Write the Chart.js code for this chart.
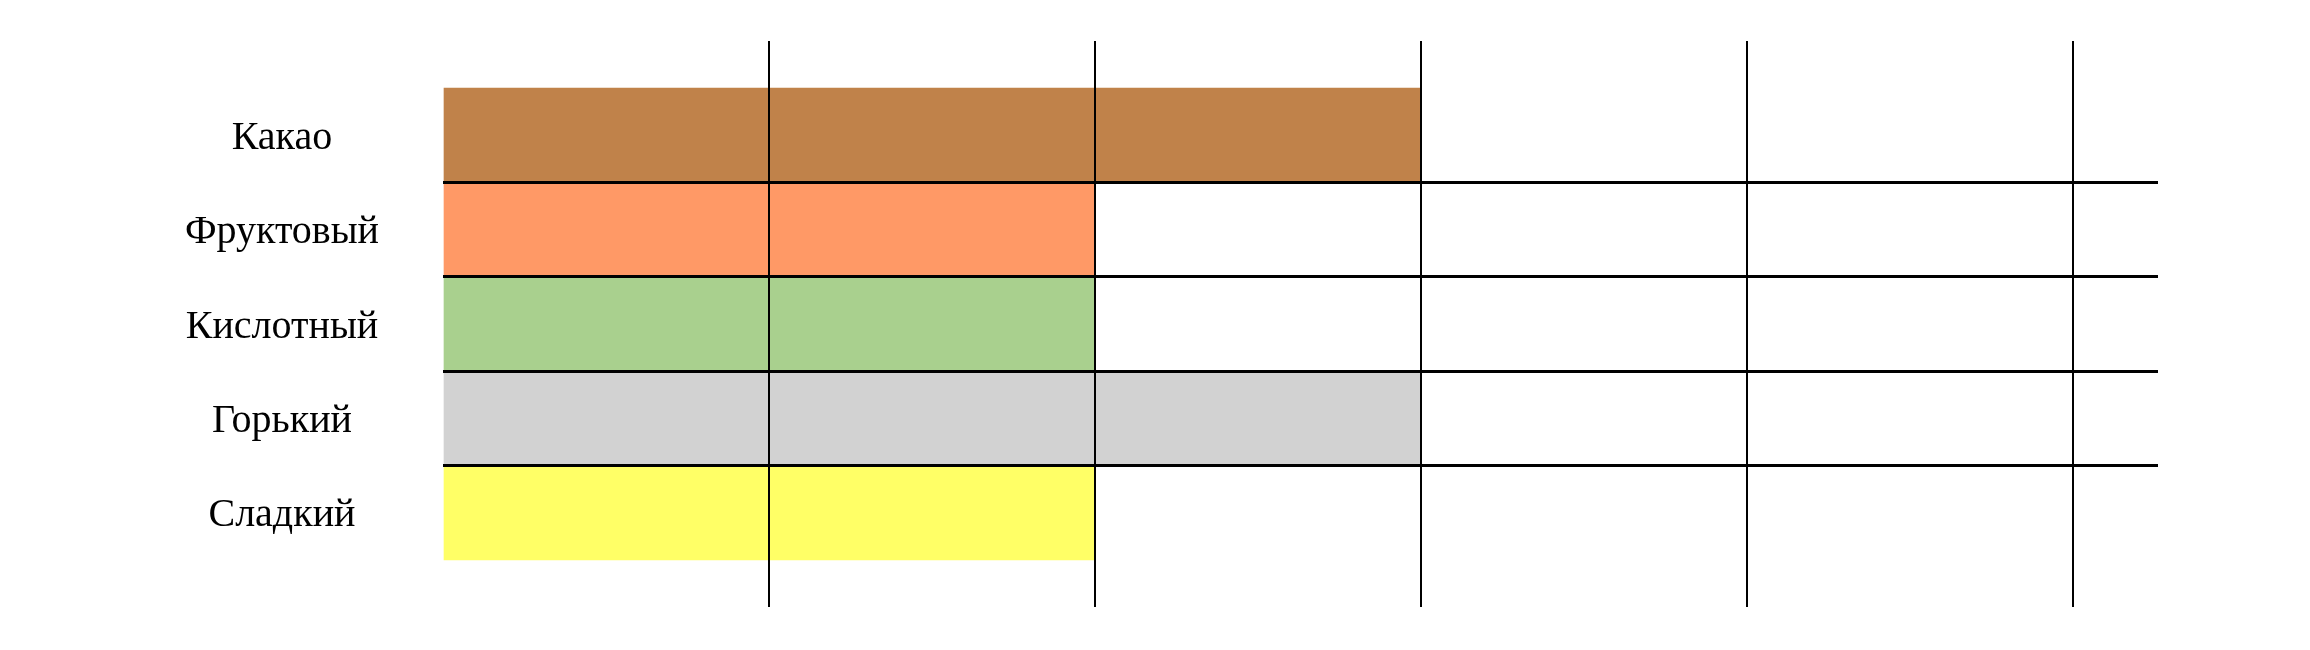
<!DOCTYPE html>
<html>
<head>
<meta charset="utf-8">
<script src="https://cdn.jsdelivr.net/npm/chart.js@4/dist/chart.umd.min.js"></script>
<style>
    html, body { margin: 0; padding: 0; background: #fff; }
    #wrap { width: 2310px; height: 650px; }
</style>
</head>
<body>
<div id="wrap"><canvas id="tasteChart" width="2310" height="650"></canvas></div>
<script>
// вкусовой профиль
const categories = ["Какао", "Фруктовый", "Кислотный", "Горький", "Сладкий"];
const scores = [3, 2, 2, 3, 2];
const barColors = ["#c0824a", "#ff9966", "#a9d08e", "#d2d2d2", "#ffff66"];

// пустые места сверху и снизу, как на исходной картинке
const labels = [""].concat(categories, [""]);
const values = [null].concat(scores, [null]);
const colors = ["#fff"].concat(barColors, ["#fff"]);

const context = document.getElementById("tasteChart").getContext("2d");
const chart = new Chart(context, {
    type: "bar",
    data: {
        labels: labels,
        datasets: [
            {
                data: values,
                backgroundColor: colors,
                borderWidth: 0,
                barPercentage: 1,
                categoryPercentage: 1
            }
        ]
    },
    options: {
        indexAxis: "y",
        responsive: false,
        animation: false,
        layout: {
            padding: { top: 41, bottom: 43, left: 0, right: 152 }
        },
        plugins: {
            legend: { display: false },
            tooltip: { enabled: false }
        },
        scales: {
            x: {
                min: 0,
                max: 5.26,
                ticks: { display: false, stepSize: 1 },
                border: { display: false },
                grid: {
                    z: 1,
                    drawTicks: false,
                    lineWidth: 2,
                    color: ctx => (ctx.tick && ctx.tick.value > 0 && Number.isInteger(ctx.tick.value)) ? "#000" : "rgba(0,0,0,0)"
                }
            },
            y: {
                offset: false,
                border: { display: false },
                afterFit: scale => {
                    scale.width = 443;
                    scale.paddingTop = 0;
                    scale.paddingBottom = 0;
                },
                ticks: {
                    color: "#000",
                    crossAlign: "center",
                    padding: 64,
                    labelOffset: 3,
                    autoSkip: false,
                    font: { family: "'Liberation Serif', serif", size: 40 }
                },
                grid: {
                    z: 1,
                    offset: true,
                    drawTicks: false,
                    lineWidth: 3,
                    color: ctx => (ctx.index >= 2 && ctx.index <= 5) ? "#000" : "rgba(0,0,0,0)"
                }
            }
        }
    }
});
</script>
</body>
</html>
